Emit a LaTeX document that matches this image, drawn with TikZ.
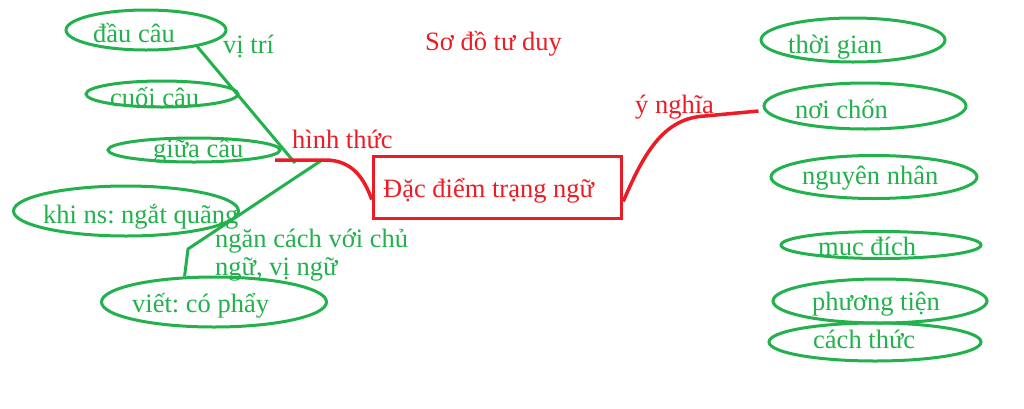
\documentclass[tikz,border=0pt]{standalone}
\usepackage{fontspec}
\setmainfont{Liberation Serif}
\usetikzlibrary{shapes.geometric}
\definecolor{pgreen}{HTML}{22B14C}
\definecolor{pred}{HTML}{ED1C24}
\frenchspacing
\begin{document}
\begin{tikzpicture}[x=1pt,y=-1pt,
  oval/.style={draw=pgreen, line width=3pt, ellipse, inner sep=0pt},
  gtxt/.style={text=pgreen, anchor=base west, inner sep=0pt, font=\fontsize{26.5}{30}\selectfont},
  rtxt/.style={gtxt, text=pred},
  gline/.style={draw=pgreen, line width=3pt},
  rline/.style={draw=pred, line width=3.5pt}]
\useasboundingbox (0,0) rectangle (1024,408);
\fill[white] (0,0) rectangle (1024,408);

% title
\node[rtxt] (title) at (425,50) {Sơ đồ tư duy};

% central box
\node[draw=pred, line width=3.5pt, minimum width=248pt, minimum height=62pt, inner sep=0pt] (box) at (497.5,187.5) {};
\node[rtxt] (boxt) at (383,197) {Đặc điểm trạng ngữ};

% left ellipses
\node[oval, minimum width=160pt, minimum height=40pt] (e1) at (146,30) {};
\node[oval, minimum width=152pt, minimum height=26pt] (e2) at (162,94) {};
\node[oval, minimum width=172pt, minimum height=24pt] (e3) at (194,150) {};
\node[oval, minimum width=225pt, minimum height=50pt] (e4) at (126,211) {};
\node[oval, minimum width=225pt, minimum height=50pt] (e5) at (214,302) {};

% right ellipses
\node[oval, minimum width=184pt, minimum height=44pt] (r1) at (853,40) {};
\node[oval, minimum width=202pt, minimum height=46pt] (r2) at (865,106) {};
\node[oval, minimum width=206pt, minimum height=43pt] (r3) at (874,177) {};
\node[oval, minimum width=200pt, minimum height=27pt] (r4) at (881,245) {};
\node[oval, minimum width=214pt, minimum height=44pt] (r5) at (880,301) {};
\node[oval, minimum width=212pt, minimum height=38pt] (r6) at (875,342) {};

% labels in ellipses
\node[gtxt] (t1) at (93,42) {đầu câu};
\node[gtxt] (t2) at (110,106) {cuối câu};
\node[gtxt] (t3) at (153,157) {giữa câu};
\node[gtxt] (t4) at (43,223) {khi ns: ngắt quãng};
\node[gtxt] (t5) at (132,312) {viết: có phẩy};
\node[gtxt] (u1) at (788,53) {thời gian};
\node[gtxt] (u2) at (795,118) {nơi chốn};
\node[gtxt] (u3) at (802,184) {nguyên nhân};
\node[gtxt] (u4) at (818,255) {mục đích};
\node[gtxt] (u5) at (812,310) {phương tiện};
\node[gtxt] (u6) at (813,348) {cách thức};

% branch labels
\node[gtxt] (vitri) at (223,53) {vị trí};
\node[gtxt] (ngan1) at (215,247) {ngăn cách với chủ};
\node[gtxt] (ngan2) at (215,275) {ngữ, vị ngữ};
\node[rtxt] (hinh) at (292,148) {hình thức};
\node[rtxt] (ynghia) at (635,113) {ý nghĩa};

% junction coordinates
\coordinate (hs) at (275,160);
\coordinate (hm) at (325,160);
\coordinate (j1) at (295,163);
\coordinate (j2) at (322,160);
\coordinate (j3) at (188,249);

% green connectors
\draw[gline] (e1.-18) -- (j1);
\draw[gline] (j2) -- (j3) -- (e5.139);

% red connectors
\draw[rline] (hs) -- (hm) .. controls (352,160) and (364,178) .. ([yshift=-12pt]box.west);
\draw[rline] ([yshift=-14pt]box.east) .. controls (645,150) and (665,118) .. (705,116) -- ([xshift=-4pt,yshift=-5pt]r2.west);
\end{tikzpicture}
\end{document}
